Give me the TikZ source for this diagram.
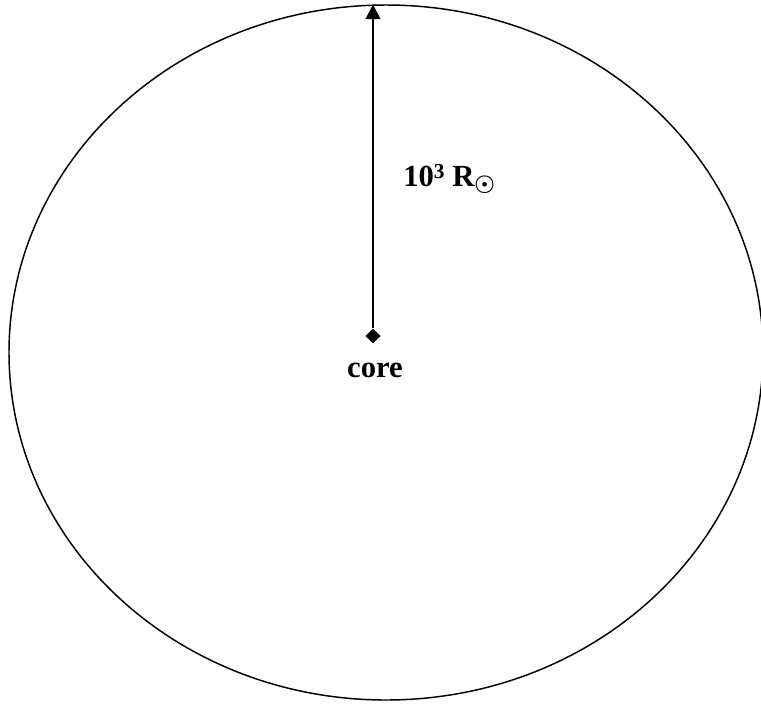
\documentclass[tikz,border=0pt]{standalone}
\usepackage{amsmath}
\usepackage{fontspec}
\setmainfont{Liberation Serif}
\usetikzlibrary{arrows.meta, shapes.geometric}

\begin{document}
\begin{tikzpicture}[x=0.75pt, y=-0.75pt, every node/.style={font=\fontsize{23}{27}\selectfont\bfseries}]
	\useasboundingbox (0,0) rectangle (761,704);
	% the star
	\draw[line width=1.1pt] (386,352.5) ellipse (377 and 347.5);
	
	% core and radius
	\node[diamond, fill=black, inner sep=0pt, minimum width=11.5pt, minimum height=11pt] (core) at (373,336) {};
	\coordinate (surface) at (373,4.5);
	\draw[line width=1.5pt, -{Triangle[length=11pt, width=11pt]}] (core) -- (surface);
	
	\node[anchor=base] (corelabel) at (375,377) {core};
	\node[anchor=base west, inner sep=0pt] (radius) at (403,186) {10\raisebox{6pt}{\fontsize{16}{16}\selectfont 3} R$_{\boldsymbol{\odot}}$};
\end{tikzpicture}
\end{document}
